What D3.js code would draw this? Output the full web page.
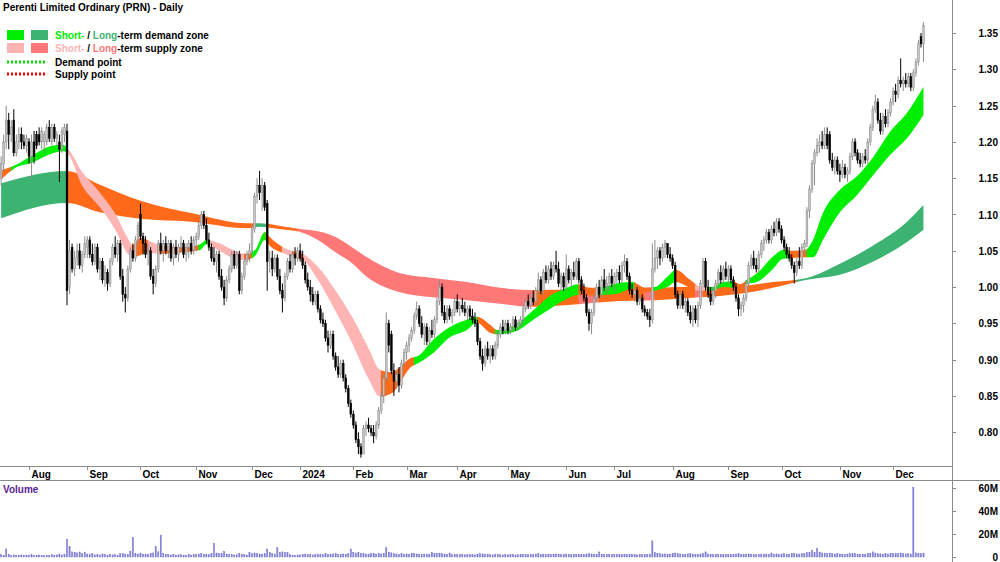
<!DOCTYPE html>
<html lang="en">
<head>
<meta charset="UTF-8">
<title>Perenti Limited Ordinary (PRN) - Daily</title>
<script src="https://cdn.jsdelivr.net/npm/d3@7"></script>
<style>
  body { margin: 0; background: #fff; }
  svg { display: block; }
  text { font-family: 'Liberation Sans', Arial, sans-serif; font-size: 10px; font-weight: bold; fill: #000; }
  .axis-line { stroke: #8a8a8a; stroke-width: 1; shape-rendering: crispEdges; }
</style>
</head>
<body>
<svg id="chart" width="1000" height="562"></svg>
<script>
// daily bars, [open, high, low, close] in cents
const jul23 = [[115,118,114,117],[117,121,116,120],[120,125,119,123],[123,124,119,121],[121,123,120,122],[123,124.5,118,118.5],[118.5,121,118,120],[120,122,119,121],[121,122,119,120],[120,121,119,119.5],[119.5,121,118.5,120.5]];
const aug23 = [[120,120.5,117,118],[118,121,115,120],[120,121.5,117,118],[121,121.5,119,119.5],[121,122,119.5,120],[120,122,119,121.5],[120,121.5,118.5,121],[120,122.5,119.5,122],[122,123,120,120.5],[120,122.5,119.5,122],[122,122.5,120,120.5],[120.5,121.5,119.5,121],[120,121,114.5,119],[119,122,118.5,121.5],[121,122.5,120,122],[121.5,122.5,97.5,99.5],[100,106.5,99,105],[105.5,106,102,102.5],[102.5,105,101.5,104],[104,106,103,105],[105,106,102.5,103],[103,105,102,104.5],[104.5,107,104,106]];
const sep23 = [[105.5,107,104,106.5],[106.5,107,104,104.5],[104.5,106,103,103.5],[103.5,106,103,105.5],[105.5,106,102,102.5],[102.5,104,101,103.5],[103.5,104,100.5,101],[101,103,100,102],[102,102.5,99.5,100.5],[100.5,104,100,103.5],[103.5,106,103,105.5],[105.5,107,104,104.5],[104.5,106.5,103.5,106],[106,106.5,101,101.5],[101.5,102.5,98,99],[99,100,96.5,98.5],[98.5,103,98,102.5],[102.5,105.5,102,105],[105,106,103.5,104],[104,107,103.5,106.5],[106.5,109,106,108.5]];
const oct23 = [[110,111.5,106.5,107],[107,107.5,104.5,106],[106,107,104,104.5],[104.5,106,103,105],[105,105.5,101,101.5],[101.5,102.5,99,100.5],[100.5,103,100,102.5],[102.5,106.5,102,106],[106,107.5,104.5,105],[105,106.5,103.5,106],[106,107,104.5,105],[105,106.5,104,106],[106,106.5,103.5,104],[104,106,103,105.5],[105.5,106.5,104,104.5],[104.5,106,103.5,105.5],[105.5,107,105,106],[106,106.5,104,104.5],[104.5,106,103.5,105.5],[105.5,106.5,104,106],[106,107,104.5,105],[105,107,104.5,106.5]];
const nov23 = [[106.5,107.5,105,107],[107,109,106.5,108.5],[108.5,110.5,108,110],[110,110.5,108,108.5],[108.5,109.5,106,106.5],[106.5,107.5,105,105.5],[105.5,106,103.5,104],[104,105.5,103,103.5],[103.5,105,102,104.5],[104.5,105,101,101.5],[101.5,102.5,99.5,100],[100,101,97.5,98.5],[98.5,101.5,98,101],[101,103,100.5,102.5],[102.5,105,102,104.5],[104.5,105,102.5,103],[103,105,102.5,104.5],[104.5,105,99,99.5],[99.5,102,99,101.5],[101.5,104,101,103.5],[103.5,105,103,104.5],[104.5,106,103.5,105]];
const dec23 = [[105,108.5,104.5,108],[108,113,107.5,112.5],[112.5,115,111.5,114],[114,116,112,113],[113,115,110.5,114],[114,114.5,110.5,111],[111.5,112,99.5,103.5],[103.5,105,102,104],[104,105,101.5,102.5],[102.5,104.5,102,104],[104,104.5,101,101.5],[101.5,102.5,99,99.5],[99.5,100.5,96.5,98.5],[98.5,102,98,101.5],[101.5,104,101,103.5],[103.5,104.5,102,102.5],[102.5,105,102,104.5],[104.5,105.5,103,104],[104,105.5,103.5,105]];
const jan24 = [[105,106,103.5,104],[104,105,102.5,103],[103,103.5,100.5,101],[101,102,99.5,100],[100,101,98,99],[99,100,97.5,98],[98,99.5,97.5,99],[99,99.5,96.5,97],[97,97.5,95,95.5],[95.5,96.5,94.5,95],[95,95.5,92.5,93],[93,94,91,92],[92,94,91.5,93.5],[93.5,94,90,90.5],[90.5,91,88.5,89],[89,90.5,87.5,88],[88,90,87.5,89.5],[89.5,90,87,87.5],[87.5,88,85.5,86],[86,86.5,83.5,84],[84,84.5,82,82.5]];
const feb24 = [[82.5,83,80.5,81],[81,81.5,78.5,79],[79,80,77,78],[78,78.5,76.5,77],[77,81,77,80.5],[80.5,81.5,79.5,81],[81,82,80,80.5],[80.5,81,79.5,80],[80,81,78.5,79.5],[79.5,81.5,79,81],[81,83.5,80.5,83],[83,85.5,82.5,85],[85,88,84,87.5],[87.5,96.5,87,95],[95,95.5,91,92],[93.5,94,88,88.5],[88.5,89.5,85,87],[87,88.5,86,88],[88,89,85.5,86.5],[86.5,90,86,89.5],[89.5,91.5,89,91]];
const mar24 = [[91,92.5,90,92],[92,93.5,91,93],[93,94.5,92.5,94],[94,96.5,93.5,96],[96,98,95.5,97],[97,97.5,94.5,95],[95,96,93,93.5],[93.5,95,92,94.5],[94.5,95,92,92.5],[92.5,94.5,92,94],[94,95.5,93,93.5],[93.5,96,93,95.5],[95.5,98.5,95,98],[98,101,97.5,100],[100,100.5,96,96.5],[96.5,97.5,95,95.5],[95.5,97.5,95,97],[97,97.5,95.5,96],[96,97,95,96.5],[96.5,98.5,96,98]];
const apr24 = [[98,99,96.5,97],[97,98,96,97.5],[97.5,98.5,96.5,97],[97,98,96,96.5],[96.5,97.5,95.5,97],[97,97.5,95.5,96],[96,97,95,95.5],[95.5,96.5,94.5,95],[95,95.5,92,92.5],[92.5,93,90,90.5],[90.5,91.5,88.5,89.5],[89.5,92,89,91.5],[91.5,92.5,90,90.5],[90.5,92,89.5,91.5],[91.5,92,90,90.5],[90.5,92.5,90,92],[92,94,91.5,93.5],[93.5,95,93,94.5],[94.5,95.5,93.5,94],[94,95.5,93.5,95]];
const may24 = [[95,95.5,93.5,94],[94,95,93.5,94.5],[94.5,96,94,95.5],[95.5,96,94,94.5],[94.5,95.5,94,95],[95,96,94.5,95.5],[95.5,97.5,95,97],[97,98.5,96.5,98],[98,99,97,97.5],[97.5,99,97,98.5],[98.5,99.5,97.5,98],[98,100,97.5,99.5],[99.5,102,99,101],[101,101.5,99,99.5],[99.5,102.5,99,102],[102,103,100.5,101],[101,103,100.5,102.5],[102.5,103.5,101,101.5],[101.5,103.5,101,103],[103,105,102,102.5],[102.5,103.5,100,100.5],[100.5,102,99.5,101.5],[101.5,102,99.5,100]];
const jun24 = [[100,104.5,99.5,102.5],[102.5,103,100.5,101],[101,102.5,100,102],[102,103.5,101,101.5],[101.5,104,101,103.5],[103.5,104,100.5,101],[101,101.5,99,99.5],[99.5,100.5,98,98.5],[98.5,99,96,96.5],[96.5,97,94,95],[95,97,93.5,96.5],[96.5,99,96,98.5],[98.5,100.5,98,100],[100,101,98.5,99],[99,101.5,98.5,101],[101,102.5,99.5,100],[100,101.5,99,100.5],[100.5,102,99.5,101.5],[101.5,102.5,100,100.5]];
const jul24 = [[100.5,102,99.5,101.5],[101.5,102.5,100.5,102],[102,103,100.5,101],[101,103.5,100.5,103],[103,104.5,102,103.5],[103.5,104,101,101.5],[101.5,102,99,99.5],[99.5,100.5,98.5,99],[99,100,98,99.5],[99.5,100,97.5,98],[98,99,97.5,98.5],[98.5,99,96.5,97],[97,97.5,96,96.5],[96.5,97,95.5,96],[96,97,94.5,95.5],[95.5,106,95,102.5],[102.5,106.5,102,104],[104,105.5,102.5,105],[105,105.5,103,104],[104,106,103.5,105.5],[105.5,106.5,104,106],[106,106,104,104.5],[104.5,105.5,103.5,104]];
const aug24 = [[104,104.5,102.5,103],[103,103.5,98.5,99],[99,99.5,97,97.5],[97.5,99.5,97,99],[99,99.5,97,97.5],[97.5,98.5,96.5,98],[98,98.5,96,96.5],[96.5,97.5,95,95.5],[95.5,97.5,94.5,97],[97,97.5,95,95.5],[95.5,98,94.5,97.5],[97.5,101,97,100.5],[100.5,104,100,103.5],[103.5,104,99.5,100],[100,101,98.5,99],[99,100,97.5,98],[98,100,97.5,99.5],[99.5,101,98.5,100.5],[100.5,102.5,100,102],[102,103,100.5,101],[101,103,100.5,102.5],[102.5,103.5,101,101.5]];
const sep24 = [[101.5,103,100.5,102.5],[102.5,103,100.5,101],[101,101.5,99.5,100],[100,100.5,98,98.5],[98.5,99,96,97],[97,98,96,97.5],[97.5,99,96.5,98.5],[98.5,101,98,100.5],[100.5,103.5,100,103],[103,104.5,102.5,104],[104,105,102.5,103],[103,104,102,102.5],[102.5,105,102,104.5],[104.5,106.5,104,106],[106,107,105,106.5],[106.5,108,106,107.5],[107.5,108,106,106.5],[106.5,108.5,106,108],[108,109,107,107.5],[107.5,109.5,107,109],[109,109.5,107.5,108]];
const oct24 = [[108,108.5,106,106.5],[106.5,107,105,105.5],[105.5,106,104,104.5],[104.5,105.5,103.5,104],[104,104.5,102.5,103],[103,103.5,100.5,102],[102,104,101.5,103.5],[103.5,105.5,102.5,103],[103,106,102.5,105.5],[105.5,106.5,104.5,106],[106,111,105.5,110.5],[110.5,114,109.5,113.5],[113.5,117.5,113,117],[117,119,114,118.5],[118.5,120.5,118,119.5],[119.5,121,118.5,120],[120,121.5,119,119.5],[119.5,122,119,121],[121,122,119,119.5],[121,121.5,117,117.5],[117.5,118.5,116,116.5],[116.5,118,115.5,117.5],[117.5,118,115.5,116]];
const nov24 = [[116,117,114.5,115.5],[115.5,117.5,115,116.5],[116.5,117,115,115.5],[115.5,116.5,114.5,116],[116,118.5,115.5,118],[118,120.5,117.5,120],[120,120.5,118,118.5],[118.5,119,117,117.5],[117.5,118.5,116.5,117],[117,118.5,116.5,118],[118,119,117,117.5],[117.5,120.5,117,120],[120,122.5,119.5,122],[122,125,121.5,124.5],[124.5,126.5,124,125.5],[125.5,126,122.5,123],[123,124,121,121.5],[121.5,124,121,123.5],[123.5,124.5,122,122.5],[122.5,124.5,122,124],[124,126,123.5,125.5]];
const dec24 = [[125.5,127.5,125,127],[127,128,125.5,126.5],[126.5,129,126,128.5],[128.5,131.5,127.5,128],[128,129,127,128.5],[128.5,129.5,127.5,128],[128,129.5,127.5,129],[129,129.5,127,127.5],[127.5,130,127,129.5],[129.5,131.5,129,131],[131,134,130.5,133.5],[134.5,135,133,133.5],[133.5,136.5,131,136]];

// volume, millions
const vol23 = [2.1,1.6,7.0,2.4,1.3,1.8,1.2,1.5,1.9,1.4,1.7,
  1.6,2.2,1.4,1.2,1.8,1.3,1.1,1.6,1.4,2.0,1.5,1.9,2.6,1.7,2.3,15.5,9.0,4.5,4.0,3.6,4.4,2.8,4.2,
  2.6,2.2,3.0,1.9,2.4,1.8,2.7,2.1,1.6,2.3,1.9,2.0,1.7,2.8,3.1,2.5,2.2,5.0,17.0,3.2,2.6,
  3.4,2.5,2.0,2.2,3.0,3.6,9.0,4.5,19.0,3.1,2.4,2.0,1.8,2.2,1.6,1.9,2.1,1.7,1.5,2.0,1.8,2.3,
  2.0,2.6,3.0,2.2,2.5,2.1,2.8,12.0,3.5,2.9,3.2,5.0,2.6,2.3,2.0,1.8,1.9,3.3,2.4,2.0,1.7,4.0,
  2.8,3.5,3.0,2.6,2.4,3.1,7.0,4.0,3.0,2.6,8.0,4.2,4.5,4.0,3.8,2.0,1.6,1.3,1.8];
const vol24 = [1.9,2.2,2.5,2.1,2.4,1.8,2.0,2.6,2.3,2.0,2.8,2.4,2.1,2.7,2.9,2.2,2.5,2.6,2.3,3.0,7.0,
  4.2,3.5,3.8,3.0,2.8,2.6,2.4,3.1,2.9,2.5,3.2,2.7,3.3,8.0,4.3,3.6,3.0,2.7,2.4,2.8,2.3,
  2.6,2.4,2.9,3.1,2.7,2.5,2.3,2.6,2.2,2.4,4.0,2.8,3.2,3.4,2.9,2.5,2.3,3.5,2.1,2.4,
  2.2,2.0,2.3,1.9,2.1,2.4,2.0,1.8,2.6,2.9,2.7,2.3,2.1,2.0,1.9,2.2,2.4,2.1,1.8,2.0,
  1.9,2.1,2.3,1.8,2.0,2.2,2.5,2.4,2.1,2.3,2.0,2.6,2.8,2.2,2.5,2.3,2.6,2.1,2.4,2.7,2.5,2.2,2.0,
  2.6,2.3,2.1,2.4,2.2,2.5,2.0,2.3,2.6,3.0,2.7,2.4,2.2,4.5,2.3,2.1,2.0,2.4,2.2,
  2.1,2.3,2.0,2.2,2.5,2.1,2.4,2.2,2.0,1.9,2.3,2.1,2.4,2.2,2.6,14.0,4.0,3.2,2.8,2.5,2.7,2.4,2.6,
  2.8,3.5,2.9,2.6,2.4,2.3,2.7,3.0,2.5,2.2,2.4,2.6,2.9,4.5,2.7,2.3,2.1,2.4,2.2,2.0,2.3,2.1,
  2.2,2.0,2.4,2.6,2.8,2.3,2.1,2.5,2.7,2.4,2.2,2.0,2.3,2.5,2.4,2.6,2.3,3.5,2.5,2.7,2.4,
  2.6,2.8,2.5,2.4,2.9,3.1,2.7,2.6,2.8,3.0,3.8,4.2,6.0,4.0,7.5,4.3,3.6,3.2,3.0,3.4,2.9,2.6,2.8,
  2.7,2.5,2.4,2.6,2.9,3.1,2.8,2.5,2.3,2.6,2.4,3.0,3.3,4.5,3.4,2.9,2.7,2.5,2.8,2.6,3.0,
  3.1,2.8,3.0,3.5,2.9,2.7,2.8,2.6,60.5,3.6,3.2,3.0,3.4];

// ASX closures inside the range
const holidays = ["2023-12-25","2023-12-26","2024-01-01","2024-01-26","2024-03-29","2024-04-01","2024-04-25","2024-06-10"];

// short-term zone: bar index, upper and lower edge
const stIdx = [0,5.5,12.6,19.3,24.4,26,32.3,39,45.7,49.7,52,54.8,57.6,62.7,72.6,78.5,81,85.6,91.5,96.2,100.2,104.1,106,111.2,116.8,119.9,125,131.8,138.5,144.8,149.5,154.3,157.4,161.4,164.5,170.4,177.1,183.8,187.8,193,195.7,203.6,210,216.6,223.3,227.6,232.4,237,244.2,249,254.1,258,262.8,266.3,271.9,275.8,280.5,284.9,288.8,291.6,294.4,298.3,304.6,308.6,312.5,317.2,320.4,324.3,331,337.8,344.1,350.8,357.5,364];
const stHi = [1.161,1.168,1.182,1.194,1.196,1.192,1.157,1.130,1.097,1.069,1.058,1.068,1.065,1.058,1.055,1.059,1.065,1.061,1.051,1.046,1.051,1.076,1.069,1.055,1.048,1.044,1.028,0.996,0.959,0.917,0.886,0.883,0.890,0.902,0.905,0.927,0.945,0.955,0.959,0.948,0.941,0.950,0.968,0.988,0.999,1.004,0.999,1.000,1.006,1.007,0.999,1.000,1.014,1.024,1.010,1.001,1.000,1.007,1.008,1.004,1.010,1.019,1.042,1.051,1.050,1.051,1.065,1.102,1.134,1.153,1.179,1.214,1.240,1.276];
const stLo = [1.148,1.164,1.172,1.183,1.187,1.185,1.138,1.110,1.075,1.047,1.041,1.044,1.047,1.046,1.048,1.051,1.059,1.051,1.040,1.037,1.043,1.065,1.057,1.047,1.040,1.035,1.010,0.968,0.923,0.875,0.849,0.854,0.868,0.889,0.895,0.909,0.931,0.941,0.951,0.937,0.935,0.940,0.955,0.970,0.984,0.989,0.988,0.989,0.992,0.998,0.993,0.995,1.000,1.007,0.999,0.995,0.995,1.000,0.999,0.996,1.004,1.007,1.025,1.039,1.040,1.041,1.041,1.065,1.103,1.127,1.154,1.182,1.205,1.237];
const stZones = [[0,4,"mixed"],[4,26,"stDemand"],[26,52,"stSupply"],[52,58,"mixed"],[58,62,"stSupply"],[62,78,"mixed"],[78,82,"stDemand"],[82,96,"stSupply"],[96,99,"mixed"],[99,104.5,"stDemand"],[104.5,111,"mixed"],[111,115,"stSupply"],[115,119,"mixed"],[119,150,"stSupply"],[150,163,"mixed"],[163,188,"stDemand"],[188,195,"mixed"],[195,228,"stDemand"],[228,236,"mixed"],[236,250,"stDemand"],[250,257,"mixed"],[257,266,"stDemand"],[266,274,"mixed"],[274,279,"stSupply"],[279,289,"stDemand"],[289,294,"mixed"],[294,311,"stDemand"],[311,318,"mixed"],[318,364,"stDemand"]];

// long-term zone
const ltIdx = [0,26,39,55,75,97,102,112,118,125,132,138.5,144.4,157.4,170.4,183.8,196.9,210,229.6,244,258,271,284.5,293.6,304.6,314,318,331,344,357.5,364];
const ltHi = [1.143,1.160,1.141,1.119,1.102,1.088,1.088,1.083,1.080,1.077,1.069,1.055,1.041,1.019,1.0125,1.007,0.999,0.996,0.997,0.999,0.999,1.000,1.000,1.002,1.007,1.010,1.0125,1.032,1.057,1.090,1.113];
const ltLo = [1.095,1.116,1.103,1.094,1.090,1.081,1.083,1.079,1.076,1.065,1.048,1.033,1.014,0.993,0.986,0.982,0.977,0.973,0.977,0.981,0.982,0.985,0.988,0.992,0.999,1.007,1.010,1.017,1.035,1.062,1.079];
const ltZones = [[0,26,"ltDemand"],[26,100,"mixed"],[100,105,"ltDemand"],[105,117,"mixed"],[117,210,"ltSupply"],[210,228,"mixed"],[228,236,"ltSupply"],[236,254,"mixed"],[254,258,"ltSupply"],[258,274,"mixed"],[274,277,"ltSupply"],[277,314,"mixed"],[314,364,"ltDemand"]];

const priceTicks = [0.80,0.85,0.90,0.95,1.00,1.05,1.10,1.15,1.20,1.25,1.30,1.35];
const volumeTicks = [0,20,40,60];

const colors = {
  stDemand: "#00ee00", ltDemand: "#3cb371",
  stSupply: "#ffb4b4", ltSupply: "#ff7878",
  mixed: "#ff6a1a"
};

const bars = [jul23,aug23,sep23,oct23,nov23,dec23,jan24,feb24,mar24,apr24,may24,jun24,jul24,aug24,sep24,oct24,nov24,dec24]
  .flat().map(([o,h,l,c], i) => ({i, o:o/100, h:h/100, l:l/100, c:c/100}));
const volume = vol23.concat(vol24);

// trading calendar for the x axis
const fmtKey = d3.timeFormat("%Y-%m-%d");
const dates = [];
for (let d = new Date(2023, 6, 17); dates.length < bars.length; d.setDate(d.getDate() + 1)) {
  const wd = d.getDay();
  if (wd === 0 || wd === 6 || holidays.includes(fmtKey(d))) continue;
  dates.push(new Date(d));
}
const monthStarts = dates.map((d, i) => i).filter(i => i > 0 && dates[i].getMonth() !== dates[i-1].getMonth());

const W = 1000, plotR = 952, priceB = 466, volTop = 480;
const svg = d3.select("#chart");
svg.append("rect").attr("width", W).attr("height", 562).attr("fill", "#fff");

const x = d3.scaleLinear().domain([-0.446, 375.25]).range([0, plotR]);
const y = d3.scaleLinear().domain([0.80, 1.35]).range([432.3, 33]);
const yv = d3.scaleLinear().domain([0, 60]).range([557, 488]);

const defs = svg.append("defs");
defs.append("clipPath").attr("id", "priceClip")
  .append("rect").attr("x", 0).attr("y", 0).attr("width", plotR).attr("height", priceB);

const price = svg.append("g").attr("clip-path", "url(#priceClip)");

// zones
const area = d3.area().x(d => x(d.i)).y0(d => y(d.lo)).y1(d => y(d.hi)).curve(d3.curveMonotoneX);
let clipN = 0;
function band(idx, hi, lo, zones) {
  const pts = idx.map((i, k) => ({i, hi: hi[k], lo: lo[k]}));
  const d = area(pts);
  zones.forEach(([a, b, kind]) => {
    const id = "zc" + (clipN++);
    defs.append("clipPath").attr("id", id).append("rect")
      .attr("x", x(a) - 0.4).attr("y", 0)
      .attr("width", x(b) - x(a) + 0.8).attr("height", priceB);
    price.append("path").attr("d", d).attr("fill", colors[kind]).attr("clip-path", `url(#${id})`);
  });
}
band(ltIdx, ltHi, ltLo, ltZones);
band(stIdx, stHi, stLo, stZones);

// candles
const bw = 1.8;
const candle = price.selectAll("g.bar").data(bars).join("g").attr("class", "bar");
candle.append("line")
  .attr("x1", d => x(d.i)).attr("x2", d => x(d.i))
  .attr("y1", d => y(d.h)).attr("y2", d => y(d.l))
  .attr("stroke", d => d.c >= d.o ? "#8c8c8c" : "#000").attr("stroke-width", 1);
candle.append("rect")
  .attr("x", d => x(d.i) - bw / 2).attr("width", bw)
  .attr("y", d => y(Math.max(d.o, d.c)))
  .attr("height", d => Math.max(0.8, Math.abs(y(d.o) - y(d.c))))
  .attr("fill", d => d.c >= d.o ? "#c4c4c4" : "#000")
  .attr("stroke", d => d.c >= d.o ? "#8c8c8c" : "#000").attr("stroke-width", 0.5);

// volume bars
svg.append("g").selectAll("rect").data(volume).join("rect")
  .attr("x", (v, i) => x(i) - 0.6).attr("width", 1.2)
  .attr("y", v => yv(v)).attr("height", v => yv(0) - yv(v))
  .attr("fill", "#8080dd").attr("stroke", "#7070cc").attr("stroke-width", 0.4);

// frame lines
svg.append("line").attr("class", "axis-line").attr("x1", plotR + 0.5).attr("x2", plotR + 0.5).attr("y1", 0).attr("y2", 562);
svg.append("line").attr("class", "axis-line").attr("x1", 0).attr("x2", plotR).attr("y1", priceB + 0.5).attr("y2", priceB + 0.5);
svg.append("line").attr("class", "axis-line").attr("x1", 0).attr("x2", W).attr("y1", volTop + 0.5).attr("y2", volTop + 0.5);

// price axis
const pa = svg.append("g");
priceTicks.forEach(v => {
  pa.append("line").attr("class", "axis-line").attr("x1", plotR).attr("x2", plotR + 4)
    .attr("y1", Math.round(y(v)) + 0.5).attr("y2", Math.round(y(v)) + 0.5);
  pa.append("text").attr("x", 998).attr("y", y(v) + 4).attr("text-anchor", "end").text(v.toFixed(2));
});

// volume axis
volumeTicks.forEach(v => {
  svg.append("line").attr("class", "axis-line").attr("x1", plotR).attr("x2", plotR + 4)
    .attr("y1", Math.round(yv(v)) + 0.5).attr("y2", Math.round(yv(v)) + 0.5);
  svg.append("text").attr("x", 998).attr("y", yv(v) + 4).attr("text-anchor", "end").text(v === 0 ? "0" : v + "M");
});

// month axis
const fmtMonth = d3.timeFormat("%b"), fmtYear = d3.timeFormat("%Y");
monthStarts.forEach(i => {
  const xi = Math.round(x(i)) + 0.5;
  svg.append("line").attr("class", "axis-line").attr("x1", xi).attr("x2", xi).attr("y1", priceB).attr("y2", priceB + 4);
  svg.append("text").attr("x", xi + 2).attr("y", 478)
    .text(dates[i].getMonth() === 0 ? fmtYear(dates[i]) : fmtMonth(dates[i]));
});

// titles and legend
svg.append("text").attr("x", 3).attr("y", 11).text("Perenti Limited Ordinary (PRN) - Daily");
svg.append("text").attr("x", 3).attr("y", 493).style("fill", "#5a1e96").text("Volume");

const legend = svg.append("g");
function legendRow(yy, c1, c2, first, second, rest) {
  legend.append("rect").attr("x", 7).attr("y", yy - 5).attr("width", 17).attr("height", 10).attr("fill", c1);
  legend.append("rect").attr("x", 31).attr("y", yy - 5).attr("width", 17).attr("height", 10).attr("fill", c2);
  const t = legend.append("text").attr("x", 55).attr("y", yy + 4);
  t.append("tspan").style("fill", c1).text(first);
  t.append("tspan").text(" / ");
  t.append("tspan").style("fill", c2).text(second);
  t.append("tspan").text(rest);
}
legendRow(35, colors.stDemand, colors.ltDemand, "Short-", "Long", "-term demand zone");
legendRow(48, colors.stSupply, colors.ltSupply, "Short-", "Long", "-term supply zone");
[[62, "#00dd00", "Demand point"], [74, "#ee0000", "Supply point"]].forEach(([yy, col, label]) => {
  legend.append("line").attr("x1", 7).attr("x2", 45).attr("y1", yy).attr("y2", yy)
    .attr("stroke", col).attr("stroke-width", 3).attr("stroke-dasharray", "2,2");
  legend.append("text").attr("x", 55).attr("y", yy + 4).text(label);
});
</script>
</body>
</html>
